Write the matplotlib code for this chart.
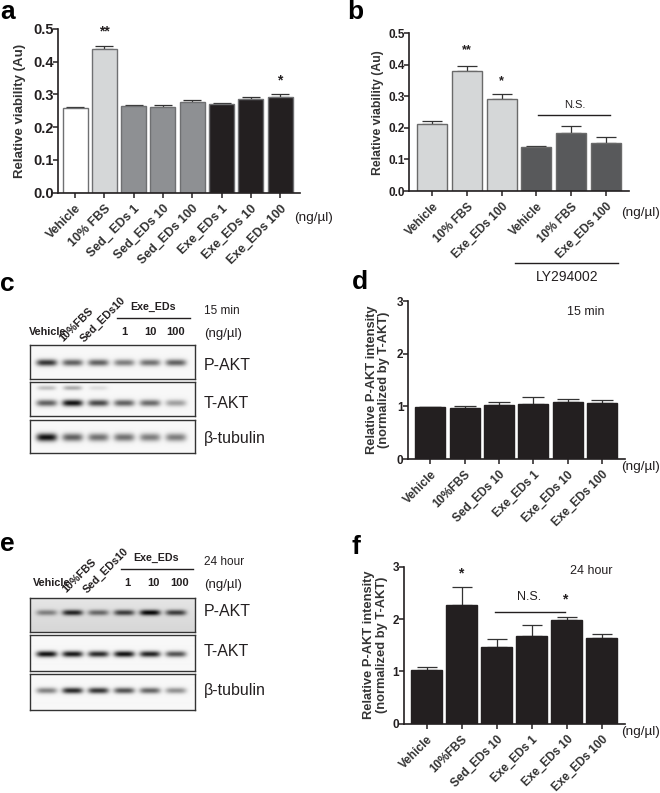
import numpy as np
import matplotlib
matplotlib.use('Agg')
import matplotlib.pyplot as plt

plt.rcParams['font.family'] = ['Liberation Sans', 'DejaVu Sans']

W, H = 660, 793
BLACK = '#231f20'

# bar panels
labels_a = ['Vehicle', '10% FBS', 'Sed_ EDs 1', 'Sed_EDs 10', 'Sed_EDs 100', 'Exe_EDs 1', 'Exe_EDs 10', 'Exe_EDs 100']
values_a = [0.26, 0.44, 0.266, 0.263, 0.278, 0.272, 0.287, 0.292]
errors_a = [0.002, 0.007, 0.003, 0.005, 0.005, 0.002, 0.006, 0.008]
colors_a = ['white', '#d5d7d8', '#8e9093', '#8e9093', '#8e9093', BLACK, BLACK, BLACK]

labels_b = ['Vehicle', '10% FBS', 'Exe_EDs 100', 'Vehicle', '10% FBS', 'Exe_EDs 100']
values_b = [0.212, 0.38, 0.293, 0.138, 0.185, 0.152]
errors_b = [0.009, 0.015, 0.014, 0.006, 0.02, 0.018]
colors_b = ['#d5d7d8', '#d5d7d8', '#d5d7d8', '#58595b', '#58595b', '#58595b']

labels_df = ['Vehicle', '10%FBS', 'Sed_EDs 10', 'Exe_EDs 1', 'Exe_EDs 10', 'Exe_EDs 100']
values_d = [0.98, 0.96, 1.03, 1.04, 1.08, 1.07]
errors_d = [0.01, 0.04, 0.05, 0.13, 0.05, 0.05]
values_f = [1.03, 2.26, 1.47, 1.68, 1.99, 1.64]
errors_f = [0.05, 0.35, 0.14, 0.2, 0.05, 0.08]

# blot band darkness per lane (0 none, 1 black)
c_pakt = [0.8, 0.62, 0.62, 0.5, 0.55, 0.62]
c_takt = [0.62, 0.95, 0.72, 0.62, 0.58, 0.36]
c_takt_upper = [0.22, 0.3, 0.1, 0, 0, 0]
c_tub = [0.95, 0.62, 0.55, 0.55, 0.5, 0.5]
e_pakt = [0.4, 0.78, 0.5, 0.68, 0.9, 0.68]
e_takt = [0.95, 0.92, 0.85, 0.95, 0.88, 0.68]
e_tub = [0.48, 0.85, 0.8, 0.68, 0.6, 0.42]


def px_axes(x0, y0, x1, y1):
    return fig.add_axes([x0 / W, 1 - y1 / H, (x1 - x0) / W, (y1 - y0) / H])


def put(x, y, s, **kw):
    kw.setdefault('ha', 'left')
    kw.setdefault('va', 'center')
    kw.setdefault('color', BLACK)
    fig.text(x / W, 1 - y / H, s, **kw)


def hline(x0, x1, y, lw=1.0):
    fig.add_artist(plt.Line2D([x0 / W, x1 / W], [1 - y / H, 1 - y / H], color=BLACK, lw=lw))


def bar_panel(box, first, step, width, labels, values, errors, colors, edge, ymax, yticks, fmt, cap,
              ylabel, ylabel_x, tick_size, xlab_size=8.5, ylab_size=9.3, ypad=0):
    x0, y0, x1, y1 = box
    ax = px_axes(x0, y0, x1, y1)
    xs = np.arange(len(values))
    ax.bar(xs, values, width=width / step, color=colors, edgecolor=edge, linewidth=1.0, zorder=2)
    ax.errorbar(xs, values, yerr=[np.zeros(len(errors)), errors], fmt='none', ecolor='#333333',
                elinewidth=0.9, capsize=cap, capthick=0.9, zorder=1)
    ax.set_xlim((x0 - first) / step, (x1 - first) / step)
    ax.set_ylim(0, ymax)
    ax.patch.set_alpha(0)
    ax.spines['top'].set_visible(False)
    ax.spines['right'].set_visible(False)
    for s in ('left', 'bottom'):
        ax.spines[s].set_linewidth(1.2)
        ax.spines[s].set_color(BLACK)
    ax.set_yticks(yticks)
    ax.set_yticklabels([fmt % t for t in yticks], fontsize=tick_size, fontweight='bold', color=BLACK)
    ax.set_xticks(xs)
    ax.set_xticklabels(labels, rotation=45, ha='right', rotation_mode='anchor',
                       fontsize=xlab_size, fontweight='bold', color='#333333')
    ax.tick_params(axis='both', length=3.5, width=1.1, color=BLACK)
    ax.tick_params(axis='y', pad=ypad)
    ax.tick_params(axis='x', pad=3.5)
    put(ylabel_x, (y0 + y1) / 2, ylabel, rotation=90, ha='center', va='center', ma='center',
        fontsize=ylab_size, fontweight='bold', color='#333333', linespacing=1.05)
    return ax


def blot(box, lanes, center, bg=0.97, extra=None, extra_center=0.17, vignette=0.0, thick=0.085):
    x0, y0, x1, y1 = box
    ax = px_axes(x0, y0, x1, y1)
    xx, yy = np.meshgrid(np.linspace(-0.64, 5.73, 330), np.linspace(0, 1, 70))
    img = np.full(xx.shape, bg) - vignette * yy
    for i, d in enumerate(lanes):
        prof = np.exp(-((xx - i) / 0.4) ** 4)
        img -= d * 0.95 * prof * np.exp(-((yy - center) / thick) ** 2)
    if extra is not None:
        for i, d in enumerate(extra):
            prof = np.exp(-((xx - i) / 0.36) ** 4)
            img -= d * prof * np.exp(-((yy - extra_center) / 0.07) ** 2)
    ax.imshow(np.clip(img, 0, 1), cmap='gray', vmin=0, vmax=1, aspect='auto', extent=(0, 1, 1, 0),
              interpolation='bilinear')
    ax.set_xticks([])
    ax.set_yticks([])
    for s in ax.spines.values():
        s.set_linewidth(1.0)
        s.set_color('#333333')


fig = plt.figure(figsize=(W / 100, H / 100), dpi=100, facecolor='white')

# a
bar_panel((57.5, 29, 300, 192.7), 75, 29.3, 25, labels_a, values_a, errors_a, colors_a, '#6f7072',
          0.5, [0, 0.1, 0.2, 0.3, 0.4, 0.5], '%.1f', 6.5, 'Relative viability (Au)', 20, 10.5,
          xlab_size=9, ylab_size=9.5, ypad=-1)
put(294, 218, '(ng/\u00b5l)', fontsize=9.7)
put(104.3, 31, '**', ha='center', fontsize=10, fontweight='bold')
put(280, 80, '*', ha='center', fontsize=10, fontweight='bold')

# b
bar_panel((409, 33.3, 629, 191), 432.3, 34.73, 30, labels_b, values_b, errors_b, colors_b, '#6a6a6a',
          0.5, [0, 0.1, 0.2, 0.3, 0.4, 0.5], '%.1f', 7, 'Relative viability (Au)', 378, 8.5,
          ylab_size=8.8, ypad=-0.5)
put(621, 213, '(ng/\u00b5l)', fontsize=9.7)
put(467, 50, '**', ha='center', fontsize=9, fontweight='bold')
put(501, 81, '*', ha='center', fontsize=9, fontweight='bold')
put(575, 105, 'N.S.', ha='center', fontsize=8)
hline(538, 610, 115)
hline(515, 618, 263)
put(567, 277, 'LY294002', ha='center', fontsize=10)

# d
bar_panel((408.3, 301, 625, 459), 430.3, 34.3, 30, labels_df, values_d, errors_d, [BLACK] * 6, BLACK,
          3, [0, 1, 2, 3], '%d', 8, 'Relative P-AKT intensity\n(normalized by T-AKT)', 378, 8.5)
put(621, 467, '(ng/\u00b5l)', fontsize=9.7)
put(586, 312, '15 min', ha='center', fontsize=9)

# f
bar_panel((404, 566.7, 625, 723.7), 426.7, 35, 30.5, labels_df, values_f, errors_f, [BLACK] * 6, BLACK,
          3, [0, 1, 2, 3], '%d', 7.5, 'Relative P-AKT intensity\n(normalized by T-AKT)', 375.5, 8.5)
put(621, 732, '(ng/\u00b5l)', fontsize=9.7)
put(591, 571, '24 hour', ha='center', fontsize=9)
put(461, 573, '*', ha='center', fontsize=10, fontweight='bold')
put(565, 599, '*', ha='center', fontsize=10, fontweight='bold')
put(529, 597, 'N.S.', ha='center', fontsize=9)
hline(495, 565, 612)

# c
blot((30, 345, 194.7, 378.7), c_pakt, 0.52, thick=0.1)
blot((30, 382.3, 194.7, 416), c_takt, 0.62, extra=c_takt_upper, thick=0.1)
blot((30, 419.7, 194.7, 453.3), c_tub, 0.54, thick=0.12)
# e
blot((30, 597.7, 194.7, 631.7), e_pakt, 0.43, bg=0.9, vignette=0.06)
blot((30, 635.3, 194.7, 670.7), e_takt, 0.53)
blot((30, 674.3, 194.7, 710), e_tub, 0.46)

for top, tm, offs, yo in ((270, '15 min', 0, 0), (530, '24 hour', 3.5, -9)):
    put(29 + offs, top + 62 + yo, 'Vehicle', fontsize=7.8, fontweight='bold')
    put(63 + offs, top + 72 + yo, '10%FBS', fontsize=7.8, fontweight='bold', rotation=45, rotation_mode='anchor', va='baseline')
    put(84 + offs, top + 73 + yo, 'Sed_EDs10', fontsize=7.8, fontweight='bold', rotation=45, rotation_mode='anchor', va='baseline')
    put(153 + offs, top + 37 + yo, 'Exe_EDs', ha='center', fontsize=7.7, fontweight='bold')
    hline(117 + offs, 190 + offs, top + 48 + yo)
    for x, s in ((124, '1'), (150, '10'), (176, '100')):
        put(x + offs, top + 62 + yo, s, ha='center', fontsize=8, fontweight='bold')
    put(204, top + 41 + yo, tm, fontsize=8.5)
    put(204, top + 64 + yo, '(ng/\u00b5l)', fontsize=9.5)

for y, s in ((365, 'P-AKT'), (403, 'T-AKT'), (439, '\u03b2-tubulin'),
             (612, 'P-AKT'), (651, 'T-AKT'), (691, '\u03b2-tubulin')):
    put(204, y, s, fontsize=11.5)

# panel letters
for x, y, s in ((0, 12, 'a'), (347, 12, 'b'), (0, 284, 'c'), (352, 282, 'd'), (0, 544, 'e'), (352, 547, 'f')):
    put(x, y, s, fontsize=19, fontweight='bold', color='black')

plt.savefig('out.png', dpi=100)
